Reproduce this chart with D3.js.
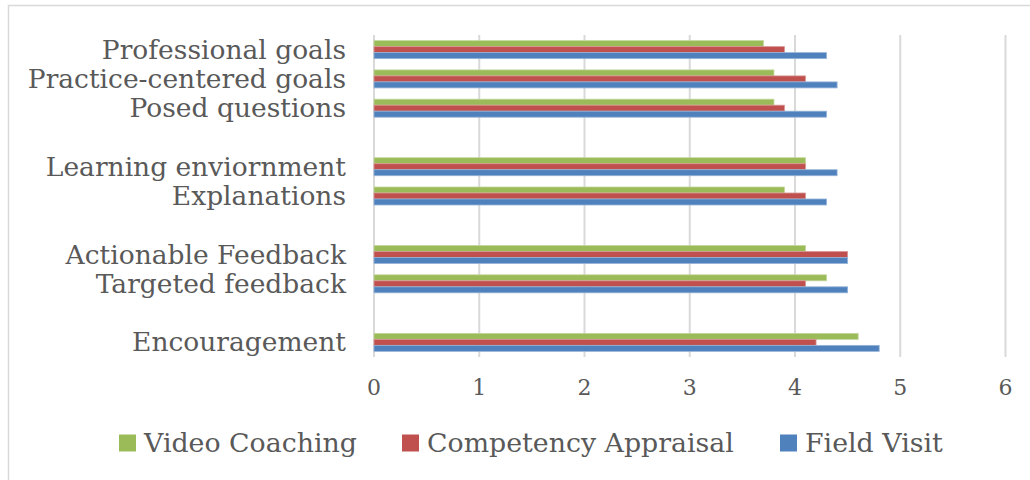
<!DOCTYPE html>
<html><head><meta charset="utf-8">
<script src="https://cdn.jsdelivr.net/npm/d3@7"></script>
<style>body{margin:0;background:#fff}svg{display:block}</style>
</head><body>
<svg id="c" width="1030" height="480"></svg>
<script>
const categories = ["Professional goals","Practice-centered goals","Posed questions","","Learning enviornment","Explanations","","Actionable Feedback","Targeted feedback","","Encouragement"];
const seriesNames = ["Video Coaching","Competency Appraisal","Field Visit"];
const videoCoaching = [3.7,3.8,3.8,null,4.1,3.9,null,4.1,4.3,null,4.6];
const competencyAppraisal = [3.9,4.1,3.9,null,4.1,4.1,null,4.5,4.1,null,4.2];
const fieldVisit = [4.3,4.4,4.3,null,4.4,4.3,null,4.5,4.5,null,4.8];
const xTicks = [0,1,2,3,4,5,6];
const colors = ["#9BBB59","#C0504D","#4F81BD"];
const strokes = ["#c3d69b","#d99694","#95b3d7"];

const seriesValues = [videoCoaching, competencyAppraisal, fieldVisit];
const svg = d3.select("#c");
const font = "'DejaVu Serif', serif";
const textColor = "#595959";

svg.append("rect").attr("x",8.5).attr("y",5.5).attr("width",1030).attr("height",480)
  .attr("fill","none").attr("stroke","#d9d9d9").attr("stroke-width",1.5);

const x = d3.scaleLinear().domain([0,6]).range([374,1005.5]);
const keys = d3.range(categories.length);
const y = d3.scaleBand().domain(keys).range([35,357]).paddingInner(0).paddingOuter(0);
const inner = d3.scaleBand().domain([0,1,2]).range([0,18]);

svg.append("g").selectAll("line").data(xTicks).join("line")
  .attr("x1",d=>x(d)).attr("x2",d=>x(d)).attr("y1",35).attr("y2",357)
  .attr("stroke","#d9d9d9").attr("stroke-width",2);

const groups = svg.append("g").selectAll("g").data(keys).join("g")
  .attr("transform",i=>`translate(0,${y(i)+y.bandwidth()/2-9})`);
groups.selectAll("rect").data(i=>seriesValues.map((s,k)=>({k,v:s[i]})).filter(d=>d.v!=null)).join("rect")
  .attr("x",x(0)).attr("y",d=>inner(d.k)).attr("height",inner.bandwidth())
  .attr("width",d=>x(d.v)-x(0)).attr("fill",d=>colors[d.k])
  .attr("stroke",d=>strokes[d.k]).attr("stroke-width",0.8);

svg.append("g").selectAll("text").data(keys).join("text")
  .attr("x",346).attr("y",i=>y(i)+y.bandwidth()/2).attr("dy","0.34em")
  .attr("text-anchor","end").attr("font-family",font).attr("font-size",26.5)
  .attr("fill",textColor).text(i=>categories[i]);

svg.append("g").selectAll("text").data(xTicks).join("text")
  .attr("x",d=>x(d)).attr("y",386.5).attr("dy","0.365em").attr("text-anchor","middle")
  .attr("font-family",font).attr("font-size",22).attr("fill",textColor).text(d=>d);

const legendX = [119,402,780];
const lg = svg.append("g").selectAll("g").data(seriesNames).join("g")
  .attr("transform",(d,i)=>`translate(${legendX[i]},443)`);
lg.append("rect").attr("x",0).attr("y",-8.5).attr("width",17).attr("height",17).attr("fill",(d,i)=>colors[i]);
lg.append("text").attr("x",25).attr("y",0).attr("dy","0.34em").attr("font-family",font)
  .attr("font-size",26.8).attr("fill",textColor).text(d=>d);
</script>
</body></html>
